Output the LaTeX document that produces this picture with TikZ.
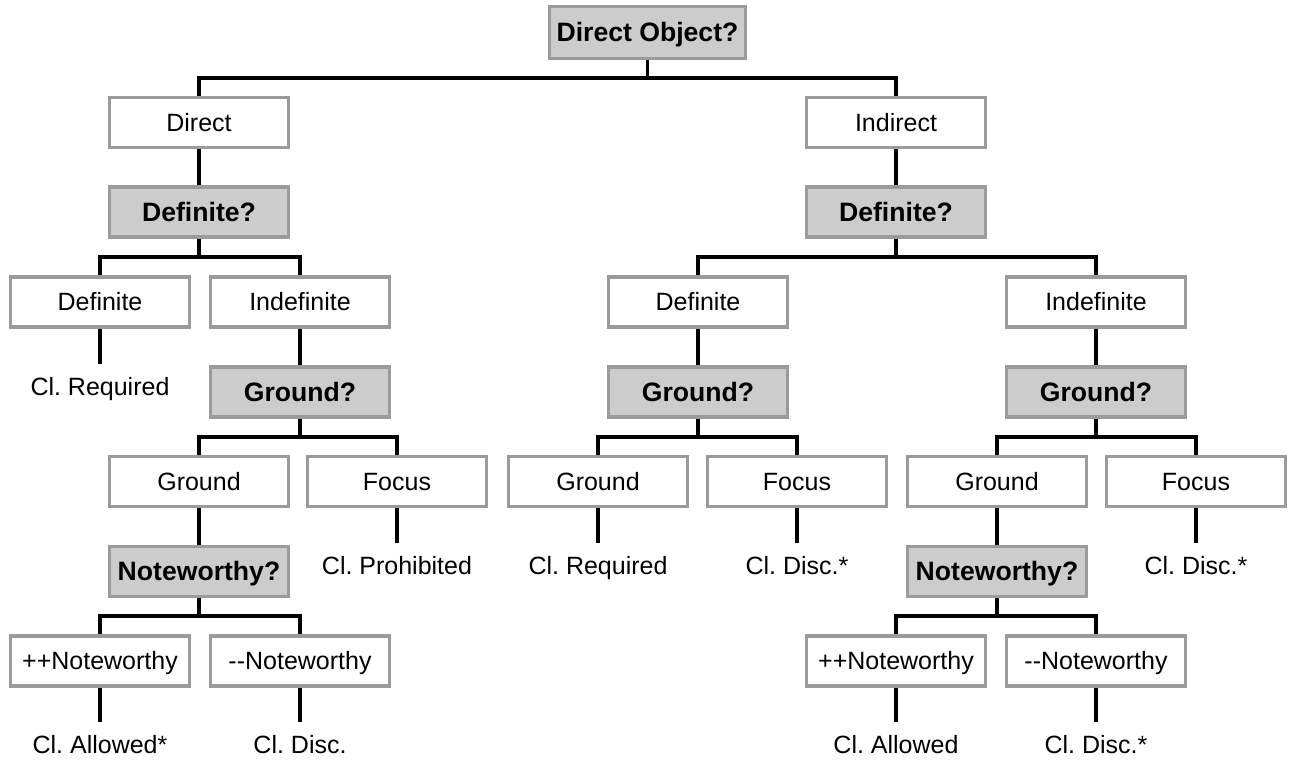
\documentclass[tikz,border=0pt]{standalone}
\usepackage{fontspec}
\setmainfont{Liberation Sans}
\usetikzlibrary{calc}
\frenchspacing
\definecolor{boxline}{RGB}{155,155,155}
\definecolor{qfill}{RGB}{204,204,204}
\newcommand\tbranch[2]{\draw[conn] (#1.south) |- ($(#1.south)!0.5!(#2.north)$) -| (#2.north);}
\newcommand\tleaf[2]{\draw[conn] (#1.south) -- (#1.south |- #2.north);}
\tikzset{
  box/.style={draw=boxline, line width=1.9pt, fill=white, minimum width=89.5pt, minimum height=25pt,
    inner sep=0pt, text height=9pt, text depth=0pt, font=\fontsize{12.5}{15}\selectfont},
  qbox/.style={box, fill=qfill, text height=9.5pt, font=\fontsize{13.3}{16}\selectfont\bfseries},
  leaf/.style={inner sep=0pt, outer xsep=0pt, outer ysep=7pt, text height=9pt, text depth=0pt,
    anchor=base, font=\fontsize{12.5}{15}\selectfont},
  conn/.style={line width=1.8pt, draw=black},
}
\begin{document}
\begin{tikzpicture}[x=0.5pt,y=-0.5pt]
\useasboundingbox (0,0) rectangle (1297,763);
\fill[white] (0,0) rectangle (1297,763);
% nodes
\node[qbox, minimum width=98pt, minimum height=26pt] (top) at (647.5,32.5) {Direct Object?};
\node[box] (d) at (199,122.5) {Direct};
\node[box] (i) at (896,122.5) {Indirect};
\node[qbox] (dq) at (199,212) {Definite?};
\node[qbox] (iq) at (896,212) {Definite?};
\node[box] (dd) at (100,302) {Definite};
\node[box] (di) at (300,302) {Indefinite};
\node[box] (id) at (698,302) {Definite};
\node[box] (ii) at (1096,302) {Indefinite};
\node[leaf] (ddl) at (100,396) {Cl. Required};
\node[qbox] (dig) at (300,392) {Ground?};
\node[qbox] (idg) at (698,392) {Ground?};
\node[qbox] (iig) at (1096,392) {Ground?};
\node[box] (dg) at (199,481.5) {Ground};
\node[box] (df) at (397,481.5) {Focus};
\node[box] (ig) at (598,481.5) {Ground};
\node[box] (if) at (797,481.5) {Focus};
\node[box] (jg) at (997,481.5) {Ground};
\node[box] (jf) at (1196,481.5) {Focus};
\node[leaf] (dfl) at (397,575) {Cl. Prohibited};
\node[leaf] (igl) at (598,575) {Cl. Required};
\node[leaf] (ifl) at (797,575) {Cl. Disc.*};
\node[leaf] (jfl) at (1196,575) {Cl. Disc.*};
\node[qbox] (dn) at (199,571.5) {Noteworthy?};
\node[qbox] (jn) at (997,571.5) {Noteworthy?};
\node[box] (dnp) at (100,661) {++Noteworthy};
\node[box] (dnm) at (300,661) {-{}-Noteworthy};
\node[box] (jnp) at (896,661) {++Noteworthy};
\node[box] (jnm) at (1096,661) {-{}-Noteworthy};
\node[leaf] (dnpl) at (100,754) {Cl. Allowed*};
\node[leaf] (dnml) at (300,754) {Cl. Disc.};
\node[leaf] (jnpl) at (896,754) {Cl. Allowed};
\node[leaf] (jnml) at (1096,754) {Cl. Disc.*};
% connectors
\tbranch{top}{d}\tbranch{top}{i}
\draw[conn] (d.south) -- (dq.north);
\draw[conn] (i.south) -- (iq.north);
\tbranch{dq}{dd}\tbranch{dq}{di}
\tbranch{iq}{id}\tbranch{iq}{ii}
\tleaf{dd}{ddl}
\draw[conn] (di.south) -- (dig.north);
\draw[conn] (id.south) -- (idg.north);
\draw[conn] (ii.south) -- (iig.north);
\tbranch{dig}{dg}\tbranch{dig}{df}
\tbranch{idg}{ig}\tbranch{idg}{if}
\tbranch{iig}{jg}\tbranch{iig}{jf}
\tleaf{df}{dfl}\tleaf{ig}{igl}\tleaf{if}{ifl}\tleaf{jf}{jfl}
\draw[conn] (dg.south) -- (dn.north);
\draw[conn] (jg.south) -- (jn.north);
\tbranch{dn}{dnp}\tbranch{dn}{dnm}
\tbranch{jn}{jnp}\tbranch{jn}{jnm}
\tleaf{dnp}{dnpl}\tleaf{dnm}{dnml}\tleaf{jnp}{jnpl}\tleaf{jnm}{jnml}
\end{tikzpicture}
\end{document}
